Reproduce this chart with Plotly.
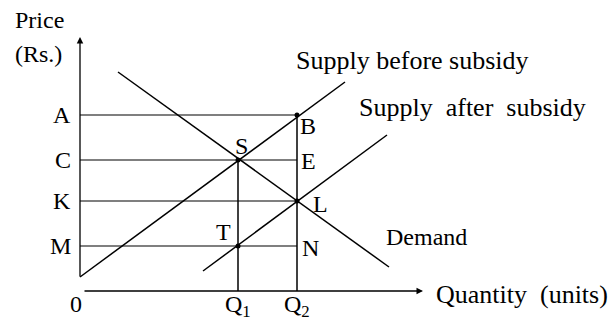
import plotly.graph_objects as go

# quantities on the x axis
q_labels = ["Q<sub>1</sub>", "Q<sub>2</sub>"]
q_values = [15.8, 21.7]

# prices on the y axis
price_labels = ["A", "C", "K", "M"]
price_values = [17.6, 13.1, 9.0, 4.5]

# curves (quantity, price)
supply_before_q = [0, 26.5]
supply_before_p = [1.4, 20.9]
supply_after_q = [12.3, 30.7]
supply_after_p = [2.0, 15.6]
demand_q = [3.8, 30.9]
demand_p = [21.9, 2.4]

x_max = 34.3
y_max = 25.4

Q1, Q2 = q_values
A, C, K, M = price_values

font = dict(family="Liberation Serif", size=24, color="black")
big = dict(family="Liberation Serif", size=26, color="black")
line = dict(color="black", width=1.5)
guide = dict(color="black", width=1.1)

fig = go.Figure()

for xs, ys in [(supply_before_q, supply_before_p),
               (supply_after_q, supply_after_p),
               (demand_q, demand_p)]:
    fig.add_trace(go.Scatter(x=xs, y=ys, mode="lines", line=line, hoverinfo="skip"))

# horizontal guides from the price axis to Q2
for p in price_values:
    fig.add_trace(go.Scatter(x=[0, Q2], y=[p, p], mode="lines", line=guide, hoverinfo="skip"))

# vertical guides
fig.add_trace(go.Scatter(x=[Q1, Q1], y=[0, C], mode="lines", line=line, hoverinfo="skip"))
fig.add_trace(go.Scatter(x=[Q2, Q2], y=[0, A], mode="lines", line=line, hoverinfo="skip"))

# intersection dots
fig.add_trace(go.Scatter(x=[Q1, Q1, Q2, Q2], y=[C, M, A, K], mode="markers",
                         marker=dict(color="black", size=5), hoverinfo="skip"))

ann = []
# axes with arrows
ann.append(dict(x=x_max, y=0, ax=0, ay=0, xref="x", yref="y", axref="x", ayref="y",
                showarrow=True, arrowhead=2, arrowsize=1, arrowwidth=1.3, arrowcolor="black", text=" "))
ann.append(dict(x=0, y=y_max, ax=0, ay=0, xref="x", yref="y", axref="x", ayref="y",
                showarrow=True, arrowhead=2, arrowsize=1, arrowwidth=1.3, arrowcolor="black", text=" "))

for lab, p in zip(price_labels, price_values):
    ann.append(dict(x=0, y=p, text=lab, xanchor="right", xshift=-7, showarrow=False))
for lab, q in zip(q_labels, q_values):
    ann.append(dict(x=q, y=0, text=lab, yshift=-15, showarrow=False))
ann.append(dict(x=0, y=0, text="0", xshift=-4, yshift=-13, showarrow=False))

point_labels = [
    ("S", Q1, C, 3, 14),
    ("E", Q2, C, 11, -1),
    ("B", Q2, A, 11, -11),
    ("L", Q2, K, 23, -3),
    ("T", Q1, M, -15, 14),
    ("N", Q2, M, 13, -2),
]
for lab, x, y, dx, dy in point_labels:
    ann.append(dict(x=x, y=y, text=lab, xshift=dx, yshift=dy, showarrow=False))

ann.append(dict(x=33.2, y=23.1, text="Supply before subsidy", font=big, showarrow=False))
ann.append(dict(x=39.25, y=18.4, text="Supply  after  subsidy", font=big, showarrow=False))
ann.append(dict(x=34.6, y=5.4, text="Demand", showarrow=False))
ann.append(dict(x=35.4, y=-0.3, text="Quantity  (units)", font=big, xanchor="left", showarrow=False))
ann.append(dict(x=-6.7, y=27.1, text="Price", xanchor="left", showarrow=False))
ann.append(dict(x=-6.7, y=23.7, text="(Rs.)", xanchor="left", showarrow=False))

fig.update_layout(
    width=609, height=322,
    margin=dict(l=0, r=0, t=0, b=0),
    paper_bgcolor="white", plot_bgcolor="white",
    showlegend=False,
    font=font,
    annotations=ann,
    xaxis=dict(range=[-8.0, 52.9], visible=False, fixedrange=True),
    yaxis=dict(range=[-3.1, 29.1], visible=False, fixedrange=True),
)

fig.write_html("out.html", config={"displayModeBar": False},
               post_script="document.body.style.margin='0';")
